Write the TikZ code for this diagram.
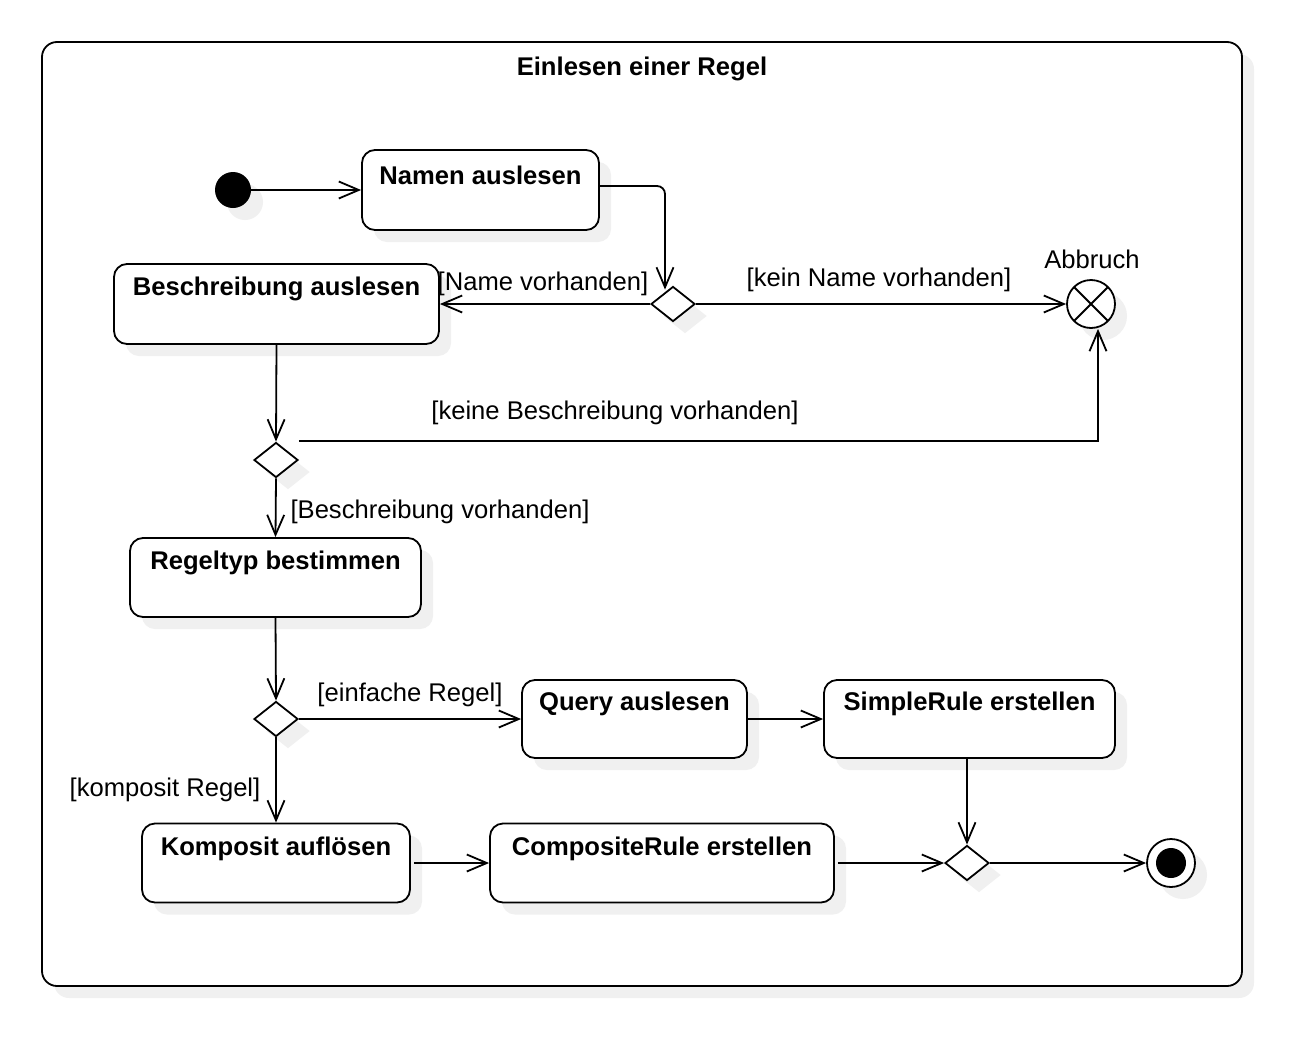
\documentclass[tikz,border=0pt]{standalone}
\usepackage{fontspec}
\setmainfont{Liberation Sans}
\usetikzlibrary{arrows.meta,shapes.geometric,shadows,calc}
\definecolor{shgray}{HTML}{F0F0F0}
\tikzset{
  shd/.style={general shadow={fill=shgray, shadow xshift=12pt, shadow yshift=-12pt}},
  actbox/.style={draw, line width=1.8pt, rounded corners=13pt, fill=white, shd, inner sep=0pt},
  acttext/.style={font=\fontsize{25.6}{30}\selectfont\bfseries, inner sep=0pt},
  guard/.style={font=\fontsize{25.6}{30}\selectfont, inner sep=0pt, text height=0.75em, text depth=0.25em},
  decis/.style={diamond, draw, line width=1.8pt, fill=white, shd, inner sep=0pt, minimum width=44pt, minimum height=35pt},
  flow/.style={line width=1.8pt, -{Straight Barb[length=20pt,width=17pt,line width=1.8pt]}},
}
\begin{document}
\begin{tikzpicture}[x=1pt,y=-1pt]
\useasboundingbox (0,0) rectangle (1300,1044);
% frame
\draw[line width=1.8pt, rounded corners=15pt, fill=white, shd] (42,42) rectangle (1242,986);
\node[acttext] (title) at (642,69) {Einlesen einer Regel};
% initial
\node[circle, fill=black, shd, minimum size=36pt, inner sep=0pt] (init) at (233,190) {};
% activities
\node[actbox, minimum width=237pt, minimum height=80pt] (n1) at (480.5,190) {};
\node[acttext] (n1t) at ([yshift=-26pt]n1.north) {Namen auslesen};
\node[actbox, minimum width=325pt, minimum height=80pt] (b) at (276.5,304) {};
\node[acttext] (bt) at ([yshift=-26pt]b.north) {Beschreibung auslesen};
\node[actbox, minimum width=291pt, minimum height=79pt] (r) at (275.5,577.5) {};
\node[acttext] (rt) at ([yshift=-26pt]r.north) {Regeltyp bestimmen};
\node[actbox, minimum width=225pt, minimum height=78pt] (q) at (634.5,719) {};
\node[acttext] (qt) at ([yshift=-25pt]q.north) {Query auslesen};
\node[actbox, minimum width=291pt, minimum height=78pt] (s) at (969.5,719) {};
\node[acttext] (st) at ([yshift=-25pt]s.north) {SimpleRule erstellen};
\node[actbox, minimum width=268pt, minimum height=79pt] (k) at (276,863) {};
\node[acttext] (kt) at ([yshift=-26pt]k.north) {Komposit auflösen};
\node[actbox, minimum width=344pt, minimum height=79pt] (c) at (662,863) {};
\node[acttext] (ct) at ([yshift=-26pt]c.north) {CompositeRule erstellen};
% decisions
\node[decis] (d1) at (673,304) {};
\node[decis] (d2) at (276,460) {};
\node[decis] (d3) at (276,719) {};
\node[decis] (d4) at (967,863) {};
% abort
\node[circle, draw, line width=1.8pt, fill=white, shd, minimum size=48pt, inner sep=0pt,
  path picture={\draw[black, line width=1.8pt] (path picture bounding box.north west) -- (path picture bounding box.south east)
    (path picture bounding box.north east) -- (path picture bounding box.south west);}] (abbr) at (1091,304) {};
\node[guard] (abbrl) at (1092,266) {Abbruch};
% final
\node[circle, draw, line width=1.8pt, fill=white, shd, minimum size=48pt, inner sep=0pt,
  path picture={\fill[black] (path picture bounding box.center) circle (15pt);}] (fin) at (1171,863) {};
% connectors
\draw[flow] (init) -- (n1);
\draw[flow, rounded corners=8pt] ([yshift=4pt]n1.east) -| ([xshift=-8pt,yshift=-4pt]d1.north);
\draw[flow] (d1.west) -- (b.east);
\draw[flow] (d1.east) -- (abbr.west);
\draw[flow] (b.south) -- (d2.north);
\draw[flow] ([yshift=19pt]d2.east) -| ([xshift=7pt]abbr.south);
\draw[flow] (d2.south) -- (r.north);
\draw[flow] (r.south) -- (d3.north);
\draw[flow] (d3.east) -- (q.west);
\draw[flow] (q.east) -- (s.west);
\draw[flow] (s.south -| d4.north) -- (d4.north);
\draw[flow] (d3.south) -- (k.north);
\draw[flow] ([xshift=3pt]k.east) -- (c.west);
\draw[flow] ([xshift=3pt]c.east) -- (d4.west);
\draw[flow] (d4.east) -- (fin.west);
% guards
\node[guard] (g1) at (543,288) {[Name vorhanden]};
\node[guard] (g2) at (879,284) {[kein Name vorhanden]};
\node[guard] (g3) at (615,417) {[keine Beschreibung vorhanden]};
\node[guard] (g4) at (440,516) {[Beschreibung vorhanden]};
\node[guard] (g5) at (410,699) {[einfache Regel]};
\node[guard] (g6) at (165,794) {[komposit Regel]};
\end{tikzpicture}
\end{document}
